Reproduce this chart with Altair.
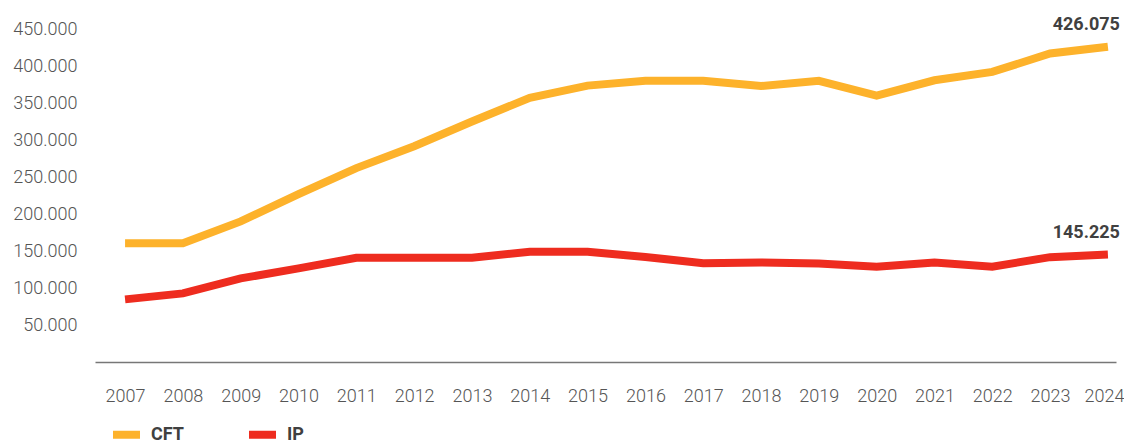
import altair as alt
import pandas as pd

years = list(range(2007, 2025))
cft = [160600, 160600, 190000, 227000, 262000, 291600, 325000, 357000, 373500,
       380000, 380000, 373000, 380000, 360000, 380700, 392000, 417000, 426075]
ip = [84600, 92700, 113000, 126500, 140800, 140800, 140800, 149000, 149000,
      142000, 133600, 134600, 133000, 128700, 134600, 128700, 141700, 145225]
series = ["CFT", "IP"]
colors = ["#FDB22B", "#EE2C1F"]
y_ticks = [50000, 100000, 150000, 200000, 250000, 300000, 350000, 400000, 450000]

rows = []
for name, vals in zip(series, [cft, ip]):
    for yr, v in zip(years, vals):
        rows.append({"year": yr, "value": v, "serie": name})
df = pd.DataFrame(rows)

fmt = "replace(format(datum.value, ',d'), regexp(',', 'g'), '.')"

x = alt.X("year:Q",
          scale=alt.Scale(domain=[2006.48, 2024.14], nice=False, zero=False),
          axis=alt.Axis(values=years, format="d", title=None, ticks=False, grid=False,
                        domain=True, domainColor="#777777", domainWidth=1.5,
                        labelFont="Roboto", labelFontSize=18, labelFontWeight=300,
                        labelColor="#555555", labelPadding=25, labelFlush=False,
                        labelOffset={"expr": "datum.value == 2024 ? -4 : 0"}))
y = alt.Y("value:Q",
          scale=alt.Scale(domain=[0, 450000], nice=False),
          axis=alt.Axis(values=y_ticks, title=None, ticks=False, grid=False, domain=False,
                        labelExpr=fmt, labelFont="Roboto", labelFontSize=18,
                        labelFontWeight=300, labelColor="#555555", labelPadding=18))
color = alt.Color("serie:N",
                  scale=alt.Scale(domain=series, range=colors),
                  legend=alt.Legend(title=None, orient="none", direction="horizontal",
                                    legendX=14, legendY=388, padding=0,
                                    symbolType="stroke", symbolStrokeWidth=8,
                                    symbolSize=729, labelOffset=7, columnPadding=49,
                                    labelFont="Roboto", labelFontSize=18,
                                    labelFontWeight="bold", labelColor="#404040"))

lines = alt.Chart(df).mark_line(strokeWidth=8, strokeCap="butt").encode(x=x, y=y, color=color)

labels = alt.Chart(df).transform_filter("datum.year == 2024").transform_calculate(
    lab="replace(format(datum.value, ',d'), regexp(',', 'g'), '.')"
).mark_text(align="right", baseline="bottom", dx=12, dy=-13, font="Roboto",
            fontSize=18, fontWeight="bold", color="#404040").encode(
    x="year:Q", y="value:Q", text="lab:N")

chart = alt.layer(lines, labels).properties(
    width=1021, height=333,
    autosize=alt.AutoSizeParams(type="none"),
    padding={"left": 87, "top": 21, "right": 8, "bottom": 100},
).configure_view(stroke=None)

chart.save("out.html", embed_options={"renderer": "svg", "actions": False})
